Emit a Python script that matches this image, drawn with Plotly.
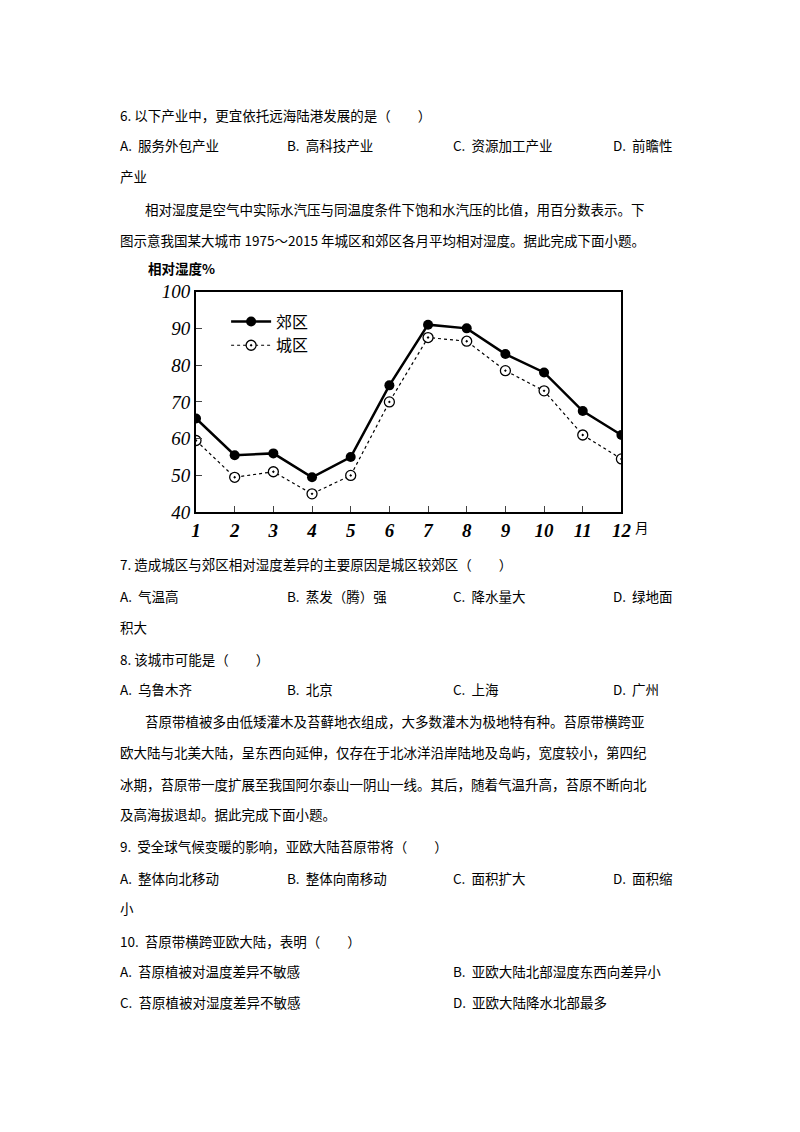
import plotly.graph_objects as go

months = list(range(1, 13))
suburb = [65.5, 55.5, 56, 49.5, 55, 74.5, 91, 90, 83, 78, 67.5, 61]
urban = [59.5, 49.5, 51, 45, 50, 70, 87.5, 86.5, 78.5, 73, 61, 54.5]
month_labels = [str(m) for m in months]

W, H = 800, 1132


# page pixel -> paper fraction (corrects the offset seen in the render)
def px(x):
    return ((x - 15.6) / 0.978) / W


def py(y):
    return 1 - ((y - 18) / 0.983) / H


fig = go.Figure()
fig.add_trace(go.Scatter(x=months, y=suburb, mode="lines+markers", name="郊区",
                         line=dict(color="black", width=2.5),
                         marker=dict(color="black", size=10)))
fig.add_trace(go.Scatter(x=months, y=urban, mode="lines+markers", name="城区",
                         line=dict(color="black", width=1.2, dash="dot"),
                         marker=dict(color="white", size=10, symbol="circle-dot",
                                     line=dict(color="black", width=1.3))))

fig.update_layout(
    width=W, height=H, margin=dict(l=0, r=0, t=0, b=0),
    paper_bgcolor="white", plot_bgcolor="white", showlegend=True,
    legend=dict(x=px(228), y=py(305), xanchor="left", yanchor="top",
                bgcolor="rgba(0,0,0,0)", itemwidth=40,
                font=dict(family="Noto Sans CJK SC", size=16, color="black")),
    font=dict(family="Noto Sans CJK SC", color="black"),
)
fig.update_xaxes(domain=[px(198), px(622)], range=[1, 12], tickvals=months,
                 ticktext=month_labels, ticks="inside", ticklen=6,
                 showline=True, linecolor="black", linewidth=2, mirror=True,
                 showgrid=False, zeroline=False,
                 tickfont=dict(family="Liberation Serif", size=19, color="black",
                               style="italic", weight="bold"))
fig.update_yaxes(domain=[py(513), py(292)], range=[40, 100], dtick=10,
                 ticks="inside", ticklen=6,
                 showline=True, linecolor="black", linewidth=2, mirror=True,
                 showgrid=False, zeroline=False,
                 tickfont=dict(family="Liberation Serif", size=19, color="black",
                               style="italic"))

texts = [
    (120, 115, "6. 以下产业中，更宜依托远海陆港发展的是（　　）"),
    (120, 145, "A.  服务外包产业"), (287, 145, "B.  高科技产业"),
    (452, 145, "C.  资源加工产业"), (612, 145, "D.  前瞻性"),
    (120, 176, "产业"),
    (145, 209, "相对湿度是空气中实际水汽压与同温度条件下饱和水汽压的比值，用百分数表示。下"),
    (120, 240, "图示意我国某大城市 1975～2015 年城区和郊区各月平均相对湿度。据此完成下面小题。"),
    (148, 268, "<b>相对湿度%</b>"),
    (634, 528, "月"),
    (120, 565, "7. 造成城区与郊区相对湿度差异的主要原因是城区较郊区（　　）"),
    (120, 597, "A.  气温高"), (287, 597, "B.  蒸发（腾）强"),
    (452, 597, "C.  降水量大"), (612, 597, "D.  绿地面"),
    (120, 628, "积大"),
    (120, 660, "8. 该城市可能是（　　）"),
    (120, 690, "A.  乌鲁木齐"), (287, 690, "B.  北京"),
    (452, 690, "C.  上海"), (612, 690, "D.  广州"),
    (145, 722, "苔原带植被多由低矮灌木及苔藓地衣组成，大多数灌木为极地特有种。苔原带横跨亚"),
    (120, 753, "欧大陆与北美大陆，呈东西向延伸，仅存在于北冰洋沿岸陆地及岛屿，宽度较小，第四纪"),
    (120, 785, "冰期，苔原带一度扩展至我国阿尔泰山一阴山一线。其后，随着气温升高，苔原不断向北"),
    (120, 815, "及高海拔退却。据此完成下面小题。"),
    (120, 847, "9.  受全球气候变暖的影响，亚欧大陆苔原带将（　　）"),
    (120, 879, "A.  整体向北移动"), (287, 879, "B.  整体向南移动"),
    (452, 879, "C.  面积扩大"), (612, 879, "D.  面积缩"),
    (120, 909, "小"),
    (120, 942, "10.  苔原带横跨亚欧大陆，表明（　　）"),
    (120, 973, "A.  苔原植被对温度差异不敏感"), (452, 973, "B.  亚欧大陆北部湿度东西向差异小"),
    (120, 1004, "C.  苔原植被对湿度差异不敏感"), (452, 1004, "D.  亚欧大陆降水北部最多"),
]
for x, y, t in texts:
    fig.add_annotation(x=px(x), y=py(y), xref="paper", yref="paper", text=t,
                       showarrow=False, xanchor="left", yanchor="middle",
                       font=dict(family="Noto Sans CJK SC", size=13.5, color="black"))

fig.write_html("out.html")
